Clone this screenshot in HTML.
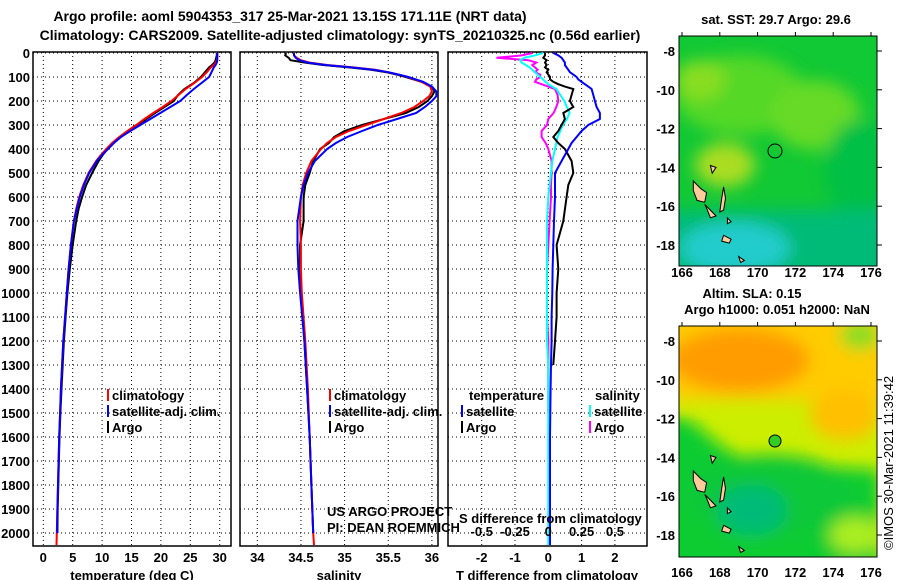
<!DOCTYPE html>
<html><head><meta charset="utf-8"><style>
body{margin:0;background:#fff;}
svg{display:block;font-family:"Liberation Sans",sans-serif;}
.b{font-weight:bold;font-size:13px;}
</style></head><body>
<svg id="c" width="900" height="580" viewBox="0 0 900 580" xmlns="http://www.w3.org/2000/svg">
<defs>
<filter id="bl" x="-20%" y="-20%" width="140%" height="140%"><feGaussianBlur stdDeviation="8"/></filter>
<clipPath id="m1"><rect x="679" y="36" width="198" height="230"/></clipPath>
<clipPath id="m2"><rect x="679" y="326" width="198" height="231"/></clipPath>
<clipPath id="p1"><rect x="33" y="52" width="198" height="494"/></clipPath>
<clipPath id="p2"><rect x="240" y="52" width="198" height="494"/></clipPath>
<clipPath id="p3"><rect x="448" y="52" width="199" height="494"/></clipPath>
</defs>
<rect width="900" height="580" fill="#fff"/>
<text x="290" y="21" text-anchor="middle" style="font-weight:bold;font-size:14px">Argo profile: aoml 5904353_317 25-Mar-2021 13.15S 171.11E (NRT data)</text>
<text x="340" y="40" text-anchor="middle" style="font-weight:bold;font-size:14px">Climatology: CARS2009. Satellite-adjusted climatology: synTS_20210325.nc (0.56d earlier)</text>

<!-- map 1 -->
<g clip-path="url(#m1)">
<rect x="679" y="36" width="198" height="230" fill="#11c835"/>
<g filter="url(#bl)">
<ellipse cx="740" cy="95" rx="65" ry="40" fill="#55d828"/>
<ellipse cx="815" cy="115" rx="45" ry="35" fill="#66da26"/>
<ellipse cx="700" cy="80" rx="25" ry="20" fill="#88dd22"/>
<ellipse cx="725" cy="165" rx="30" ry="22" fill="#aadd22"/>
<ellipse cx="860" cy="170" rx="35" ry="50" fill="#00c045"/>
<rect x="660" y="210" width="240" height="80" fill="#00bb77"/>
<ellipse cx="735" cy="248" rx="55" ry="26" fill="#22cccc"/>
</g>
</g>
<rect x="679" y="36" width="198" height="230" fill="none" stroke="#000"/>
<circle cx="775" cy="151" r="7" fill="none" stroke="#000"/>
<text x="776" y="24" text-anchor="middle" class="b">sat. SST: 29.7 Argo: 29.6</text>
<text x="752" y="298" text-anchor="middle" class="b">Altim. SLA: 0.15</text>

<!-- map 2 -->
<g clip-path="url(#m2)">
<rect x="679" y="326" width="198" height="231" fill="#ccee00"/>
<g filter="url(#bl)">
<rect x="660" y="310" width="240" height="90" fill="#ffcc00"/>
<ellipse cx="740" cy="360" rx="70" ry="32" fill="#ff9c00"/>
<ellipse cx="845" cy="415" rx="35" ry="25" fill="#ffc000"/>
<ellipse cx="860" cy="335" rx="20" ry="15" fill="#88dd22"/>
<polygon points="660,415 690,420 720,445 760,470 800,465 880,470 880,580 660,580" fill="#11cc33"/>
<ellipse cx="770" cy="495" rx="85" ry="40" fill="#11c838"/>
<ellipse cx="752" cy="510" rx="35" ry="25" fill="#00bb77"/>
<ellipse cx="855" cy="535" rx="25" ry="18" fill="#aaee22"/>
</g>
</g>
<rect x="679" y="326" width="198" height="231" fill="none" stroke="#000"/>
<circle cx="775" cy="441" r="6" fill="#33cc22" stroke="#000"/>
<text x="777" y="314" text-anchor="middle" class="b">Argo h1000: 0.051 h2000: NaN</text>
<text transform="translate(893,550) rotate(-90)" style="font-size:13px">©IMOS 30-Mar-2021 11:39:42</text>

<g id="plots"></g>
</svg>
<script>
// ---------- data ----------
const depthTicks = [0,100,200,300,400,500,600,700,800,900,1000,1100,1200,1300,1400,1500,1600,1700,1800,1900,2000];
const tempTicks = [0,5,10,15,20,25,30];
const salTicks = [34,34.5,35,35.5,36];
const salTickLabels = ["34","34.5","35","35.5","36"];
const tdiffTicks = [-2,-1,0,1,2];
const sdiffTicks = [-0.5,-0.25,0,0.25,0.5];
const sdiffTickLabels = ["-0.5","-0.25","0","0.25","0.5"];

const depthsT = [0,10,20,30,40,50,60,80,100,125,150,175,200,225,250,275,300,325,350,375,400,425,450,500,550,600,650,700,800,900,1000,1100,1200,1300,1400,1500,1600,1700,1800,1900,2000,2050];
const tempClim = [29.6,29.6,29.6,29.5,29.3,29.0,28.5,27.8,27.0,25.7,24.2,23.0,21.8,20.3,18.7,17.2,15.8,14.3,12.9,11.7,10.7,9.8,9.0,7.7,6.8,6.1,5.6,5.2,4.7,4.3,4.0,3.7,3.4,3.2,3.0,2.85,2.7,2.6,2.5,2.4,2.3,2.25];
const tempSat = [29.6,29.6,29.6,29.6,29.5,29.3,29.0,28.6,28.2,26.9,25.6,24.4,23.3,21.6,19.9,18.2,16.5,14.8,13.2,12.0,11.0,10.0,9.1,7.8,6.9,6.2,5.7,5.2,4.7,4.3,4.0,3.7,3.4,3.2,3.0,2.85,2.7,2.6,2.5,2.4,2.35];
const tempArgo = [29.5,29.5,29.4,29.3,29.1,28.7,28.2,27.5,26.8,25.6,24.0,22.9,22.2,20.6,19.0,17.5,16.2,14.6,13.2,11.9,10.9,10.1,9.4,8.3,7.3,6.6,6.0,5.6,5.0,4.5,4.1,3.8,3.5,3.3,3.1,2.9,2.75,2.65,2.55,2.45,2.4];

const depthsS = [0,10,20,30,40,50,60,70,80,90,100,120,140,160,180,200,225,250,275,300,325,350,375,400,450,500,550,600,700,800,900,1000,1200,1400,1600,1800,2000,2050];
const salClim = [34.42,34.42,34.45,34.5,34.6,34.8,35.1,35.35,35.5,35.62,35.72,35.88,35.98,36.0,35.97,35.9,35.8,35.65,35.45,35.25,35.05,34.9,34.8,34.73,34.62,34.56,34.52,34.5,34.49,34.5,34.5,34.51,34.55,34.58,34.6,34.62,34.64,34.65];
const salSat = [34.42,34.42,34.44,34.48,34.58,34.78,35.08,35.33,35.5,35.62,35.73,35.9,36.0,36.05,36.05,36.0,35.92,35.82,35.6,35.38,35.2,35.03,34.9,34.8,34.66,34.58,34.53,34.5,34.46,34.46,34.47,34.49,34.54,34.57,34.6,34.62,34.64];
const salArgo = [34.33,34.32,34.36,34.38,34.55,34.75,35.05,35.3,35.48,35.6,35.7,35.88,36.0,36.03,36.0,35.95,35.85,35.7,35.45,35.2,35.0,34.88,34.82,34.72,34.64,34.6,34.55,34.53,34.53,34.49,34.49,34.5,34.54,34.57,34.6,34.62,34.64];

const depthsD = [0,10,20,30,40,50,60,70,80,90,100,110,120,130,140,150,175,200,225,250,275,300,325,350,375,400,450,500,550,600,700,800,900,1000,1100,1200,1300,1400,1500,1600,1800,2000,2050];
const tdiffSat = [0.15,0.3,0.4,0.45,0.5,0.5,0.55,0.6,0.65,0.75,0.85,0.9,1.0,1.1,1.2,1.3,1.35,1.4,1.45,1.55,1.55,1.2,1.0,0.85,0.7,0.6,0.4,0.2,0.2,0.2,0.17,0.15,0.13,0.12,0.1,0.1,0.08,0.07,0.06,0.05,0.05,0.05,0.05];
const tdiffArgo = [-0.1,-0.1,-0.15,-0.05,-0.1,-0.05,-0.1,0.0,-0.05,0.0,0.05,0.05,0.15,0.3,0.5,0.75,0.7,0.65,0.75,0.45,0.5,0.4,0.3,0.15,0.3,0.5,0.7,0.75,0.6,0.55,0.45,0.25,0.3,0.25,0.25,0.2,0.15,0.1,0.05,0.05,0.05,0.05,0.05];
const sdiffSat = [-0.04,-0.1,-0.18,-0.21,-0.2,-0.17,-0.14,-0.12,-0.1,-0.08,-0.06,-0.04,-0.02,0.0,0.03,0.06,0.09,0.12,0.14,0.16,0.14,0.11,0.09,0.07,0.06,0.05,0.03,0.02,0.01,0.0,-0.01,-0.01,-0.01,-0.01,-0.01,-0.01,0,0,0,0,0,0,0];
const sdiffArgo = [-0.12,-0.2,-0.39,-0.15,-0.09,-0.12,-0.1,-0.08,-0.1,-0.06,-0.06,-0.09,-0.1,-0.05,0.0,0.05,0.07,0.075,0.06,0.04,0.0,-0.01,-0.05,-0.05,-0.02,0.0,0.025,0.025,0.02,0.02,0.01,0.0,-0.01,-0.01,-0.01,0,0,0,0,0,0,0,0];

const lonTicks = [166,168,170,172,174,176];
const latTicks = [-8,-10,-12,-14,-16,-18];

// ---------- axes ----------
const yD = d => 53 + d*0.24;
const xT = t => 43.3 + t*5.88;
const xS = s => 257.3 + (s-34)*87.3;
const xTD = t => 548.3 + t*33.3;
const xSD = s => 548.3 + s*133.2;
const mapX = lon => 682 + (lon-166)*18.9;
const mapY1 = lat => 51 + (-8-lat)*19.4;
const mapY2 = lat => 341 + (-8-lat)*19.4;

const NS = "http://www.w3.org/2000/svg";
const root = document.getElementById('plots');
function mk(tag, attrs, parent){ const e=document.createElementNS(NS,tag); for(const k in attrs) e.setAttribute(k,attrs[k]); (parent||root).appendChild(e); return e; }
function txt(x,y,s,anchor,cls,parent){ const e=mk('text',{x:x,y:y,'text-anchor':anchor||'middle',class:cls||'b'},parent); e.textContent=s; return e; }

const panels = [
 {l:33,r:231,clip:'p1',name:'temperature-panel',xf:xT,ticks:tempTicks,labels:tempTicks.map(String),title:'temperature (deg C)',tx:132},
 {l:240,r:438,clip:'p2',name:'salinity-panel',xf:xS,ticks:salTicks,labels:salTickLabels,title:'salinity',tx:339},
 {l:448,r:647,clip:'p3',name:'difference-panel',xf:xTD,ticks:tdiffTicks,labels:tdiffTicks.map(String),title:'T difference from climatology',tx:547}
];
panels.forEach(p=>{
  const g=mk('g',{});
  
  
  depthTicks.forEach(d=>{ const ln=mk('line',{x1:p.l,x2:p.r,y1:yD(d),y2:yD(d),stroke:'#000','stroke-dasharray':'1,3'},g);
      });
  p.ticks.forEach((t,i)=>{ const ln=mk('line',{x1:p.xf(t),x2:p.xf(t),y1:52,y2:546,stroke:'#000','stroke-dasharray':'1,3'},g);
     
    const tl=txt(p.xf(t),562,p.labels[i],'middle','b',g);
      });
  const tt=txt(p.tx,580,p.title,'middle','b',g);
   
  const fr=mk('rect',{x:p.l,y:52,width:p.r-p.l,height:494,fill:'none',stroke:'#000','stroke-width':1.5},g);
   
});
depthTicks.forEach(d=>{ const t=txt(30,yD(d)+5,String(d),'end','b');
    });

function line(xs, ds, xf, color, clip, name){
  const n=Math.min(xs.length, ds.length);
  let pts=[]; for(let i=0;i<n;i++) pts.push(xf(xs[i]).toFixed(1)+','+yD(ds[i]).toFixed(1));
  const e=mk('polyline',{points:pts.join(' '),fill:'none',stroke:color,'stroke-width':2,'clip-path':'url(#'+clip+')'});
  
  
  return e;
}
line(tempArgo, depthsT, xT, '#000', 'p1', 'temp-argo-line');
line(tempClim, depthsT, xT, '#f00', 'p1', 'temp-climatology-line');
line(tempSat, depthsT, xT, '#00f', 'p1', 'temp-satellite-line');
line(salArgo, depthsS, xS, '#000', 'p2', 'salinity-argo-line');
line(salClim, depthsS, xS, '#f00', 'p2', 'salinity-climatology-line');
line(salSat, depthsS, xS, '#00f', 'p2', 'salinity-satellite-line');
line(sdiffArgo.slice(0,39), depthsD, xSD, '#f0f', 'p3', 'sdiff-argo-line');
line(sdiffSat, depthsD, xSD, '#0ff', 'p3', 'sdiff-satellite-line');
line(tdiffArgo.slice(0,37), depthsD, xTD, '#000', 'p3', 'tdiff-argo-line');
line(tdiffSat, depthsD, xTD, '#00f', 'p3', 'tdiff-satellite-line');

// S diff ticks
sdiffTicks.forEach((s,i)=>{ const t=txt(xSD(s),536,sdiffTickLabels[i],'middle','b');
    });
const sdt=txt(459,523,'S difference from climatology','start','b');
 

// legends
function legend(x,y,color,label,name){
  const g=mk('g',{});
  
  
  mk('rect',{x:x,y:y-11,width:2,height:12,fill:color},g);
  txt(x+5,y,label,'start','b',g);
}
legend(107,400,'#f00','climatology','legend-temp-climatology');
legend(107,416,'#00f','satellite-adj. clim.','legend-temp-satellite');
legend(107,432,'#000','Argo','legend-temp-argo');
legend(329,400,'#f00','climatology','legend-sal-climatology');
legend(329,416,'#00f','satellite-adj. clim.','legend-sal-satellite');
legend(329,432,'#000','Argo','legend-sal-argo');
const lt=txt(469,400,'temperature','start','b');  
const ls=txt(595,400,'salinity','start','b');  
legend(461,416,'#00f','satellite','legend-tdiff-satellite');
legend(461,432,'#000','Argo','legend-tdiff-argo');
legend(589,416,'#0ff','satellite','legend-sdiff-satellite');
legend(589,432,'#f0f','Argo','legend-sdiff-argo');
const c1=txt(327,516,'US ARGO PROJECT','start',''); c1.setAttribute('style','font-size:13px');  
const c2=txt(327,532,'PI: DEAN ROEMMICH','start',''); c2.setAttribute('style','font-size:13px');  

// map ticks & islands
const islands = [
 [[166.6,-14.7],[167.0,-15.1],[167.3,-15.3],[167.2,-15.8],[166.8,-15.7],[166.6,-15.2]],
 [[167.2,-15.9],[167.5,-16.2],[167.8,-16.5],[167.5,-16.6],[167.3,-16.1]],
 [[168.2,-15.0],[168.3,-15.6],[168.2,-16.2],[168.0,-16.3],[168.1,-15.6]],
 [[168.2,-17.5],[168.6,-17.7],[168.5,-17.9],[168.1,-17.8]],
 [[169.0,-18.6],[169.3,-18.8],[169.1,-18.9]],
 [[167.5,-13.9],[167.8,-14.0],[167.6,-14.3]],
 [[168.4,-16.6],[168.6,-16.8],[168.4,-16.9]]
];
[[mapY1,36,266,277,'sst'],[mapY2,326,557,577,'sla']].forEach(([my,top,bot,ly,nm])=>{
  lonTicks.forEach(lon=>{
    mk('line',{x1:mapX(lon),x2:mapX(lon),y1:top-4,y2:top,stroke:'#000'});
    const t=txt(mapX(lon),ly,String(lon),'middle','b');
     
  });
  latTicks.forEach(lat=>{
    mk('line',{x1:877,x2:882,y1:my(lat),y2:my(lat),stroke:'#000'});
    const t=txt(675,my(lat)+5,String(lat),'end','b');
     
  });
  islands.forEach(isl=>{
    const p=mk('polygon',{points:isl.map(q=>mapX(q[0]).toFixed(1)+','+my(q[1]).toFixed(1)).join(' '),fill:'#ffcc99',stroke:'#000','stroke-width':1});
     
  });
});
</script>
</body></html>
